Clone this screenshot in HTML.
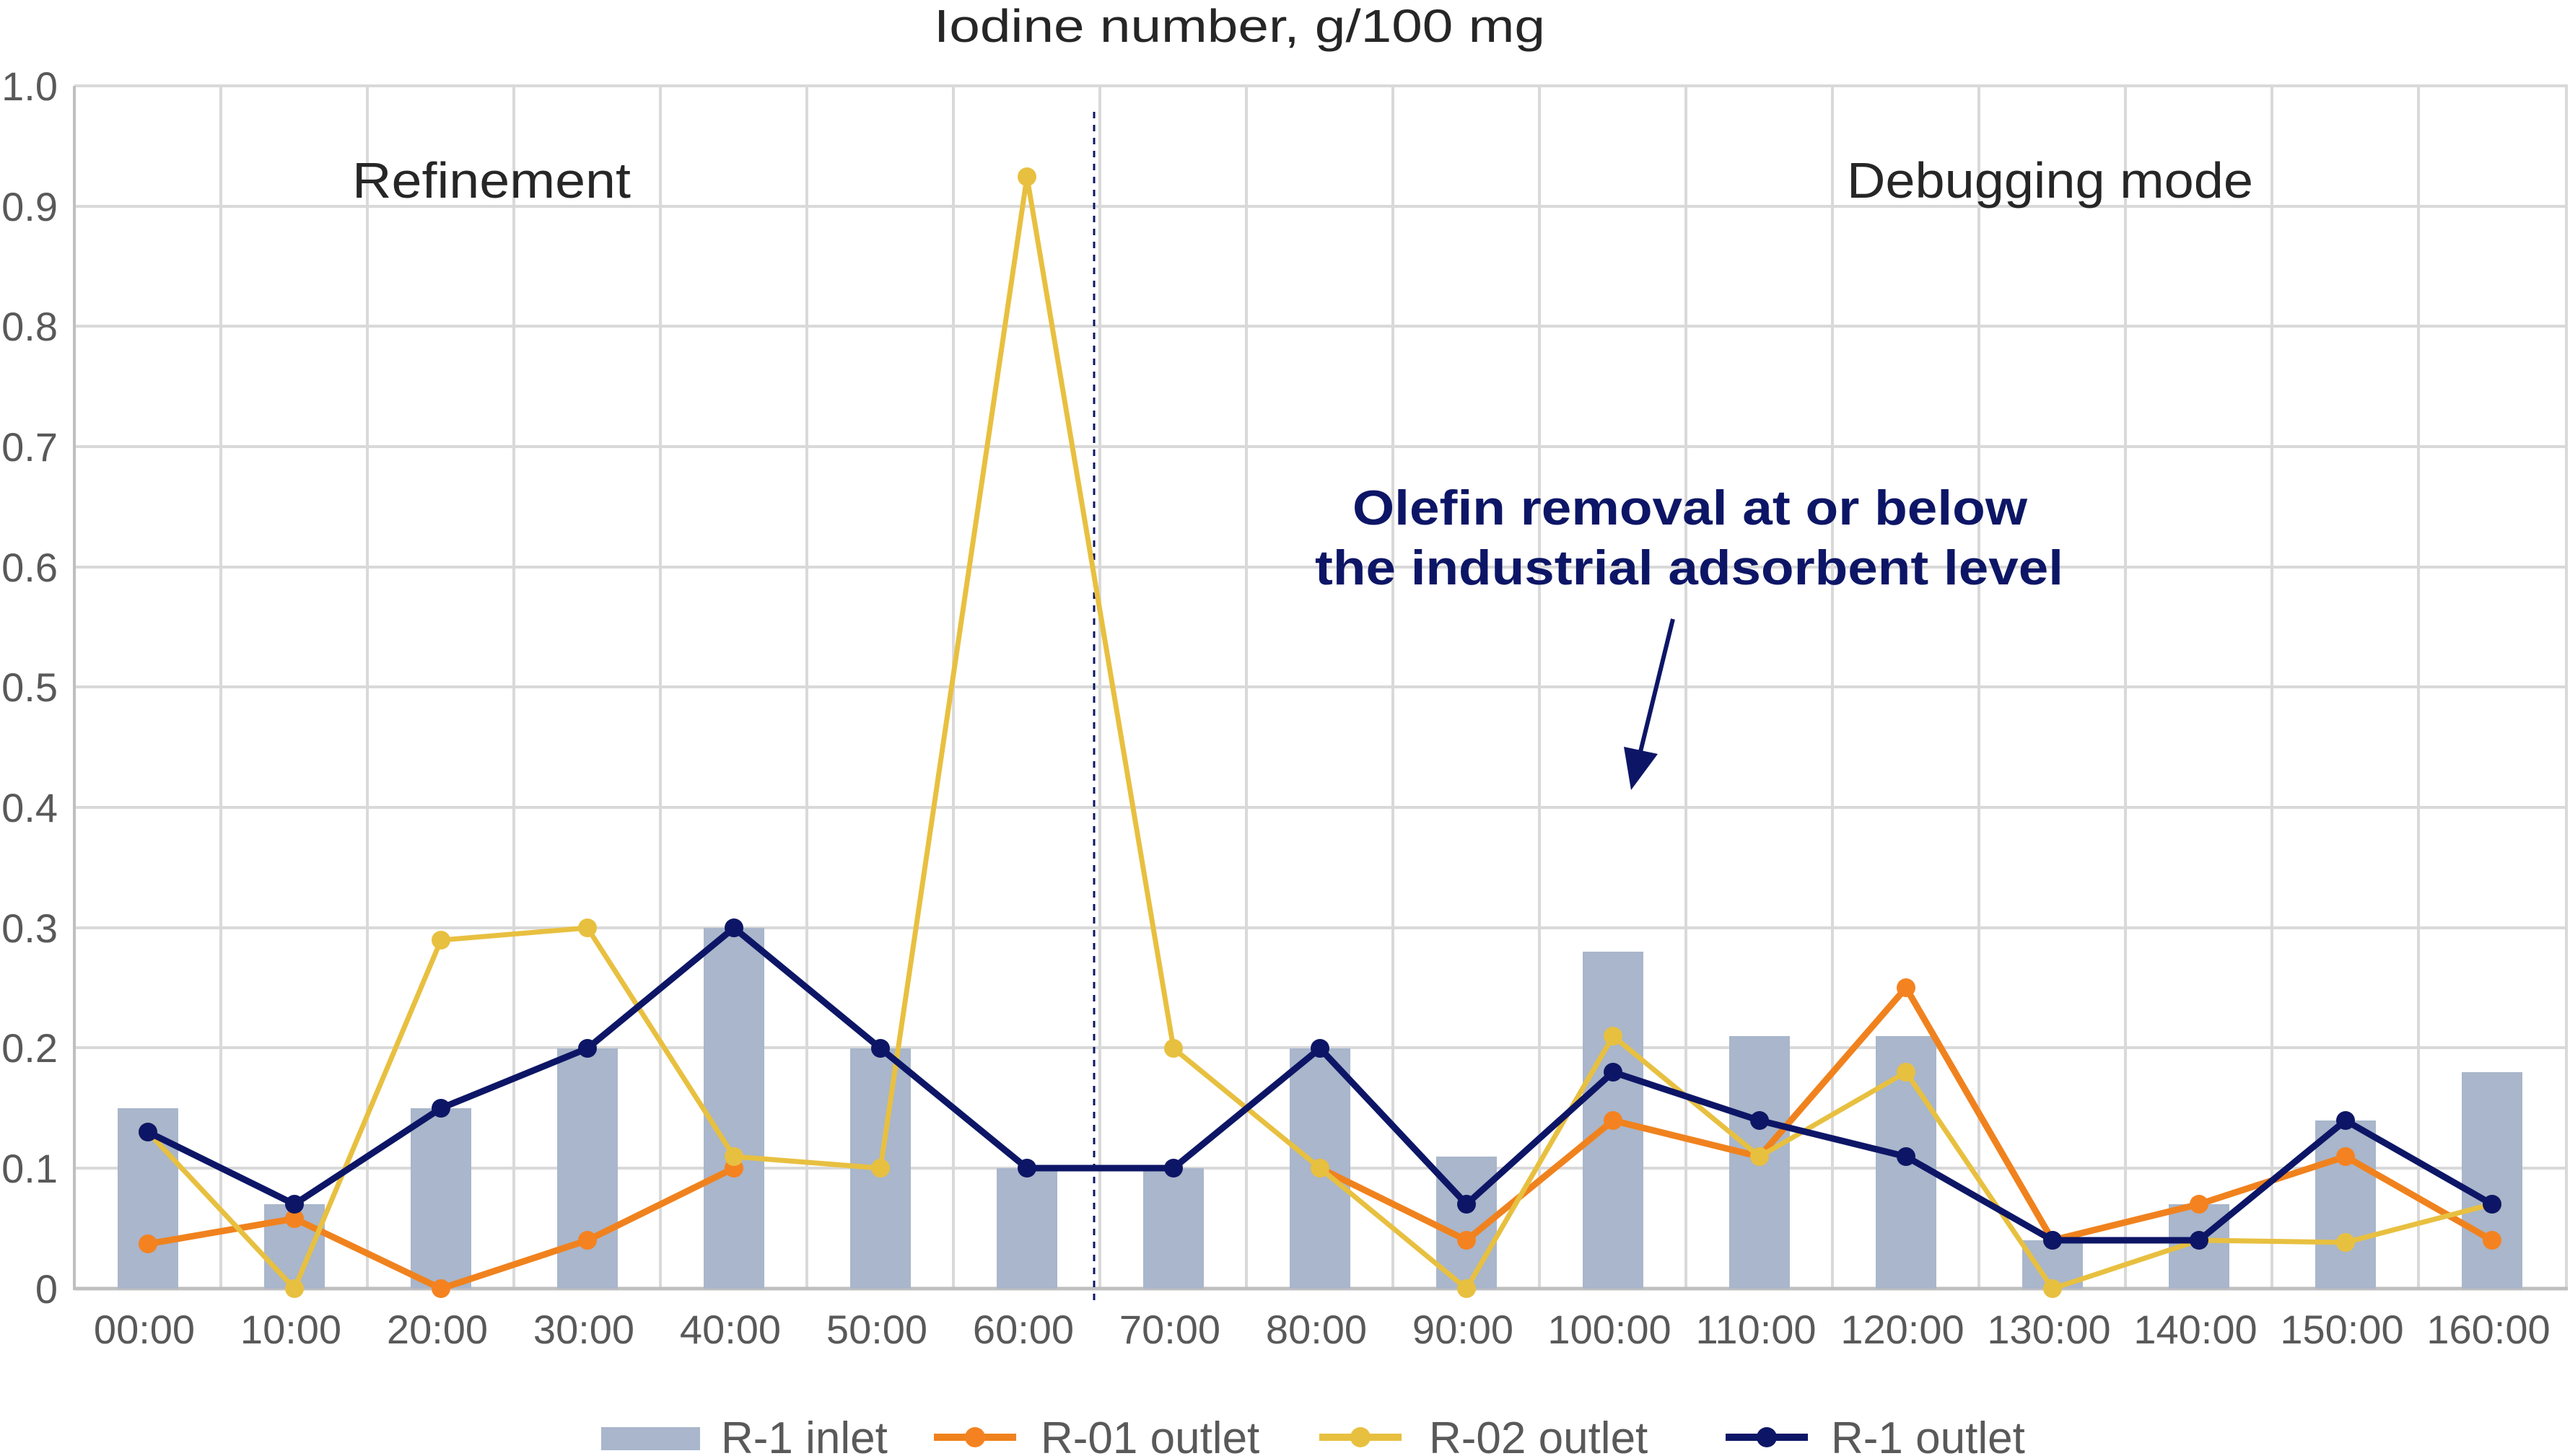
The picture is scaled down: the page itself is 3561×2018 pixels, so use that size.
<!DOCTYPE html>
<html><head><meta charset="utf-8"><style>html,body{margin:0;padding:0;background:#fff}svg{display:block}</style></head>
<body>
<svg width="3561" height="2018" viewBox="0 0 3561 2018" xmlns="http://www.w3.org/2000/svg" font-family="Liberation Sans, sans-serif">
<rect width="3561" height="2018" fill="#fff"/>
<g stroke="#D9D9D9" stroke-width="4">
<line x1="103" y1="119" x2="3558" y2="119"/>
<line x1="103" y1="286" x2="3558" y2="286"/>
<line x1="103" y1="452" x2="3558" y2="452"/>
<line x1="103" y1="619" x2="3558" y2="619"/>
<line x1="103" y1="786" x2="3558" y2="786"/>
<line x1="103" y1="952" x2="3558" y2="952"/>
<line x1="103" y1="1119" x2="3558" y2="1119"/>
<line x1="103" y1="1286" x2="3558" y2="1286"/>
<line x1="103" y1="1452" x2="3558" y2="1452"/>
<line x1="103" y1="1619" x2="3558" y2="1619"/>
<line x1="306" y1="119" x2="306" y2="1786"/><line x1="509" y1="119" x2="509" y2="1786"/><line x1="712" y1="119" x2="712" y2="1786"/><line x1="915" y1="119" x2="915" y2="1786"/><line x1="1118" y1="119" x2="1118" y2="1786"/><line x1="1321" y1="119" x2="1321" y2="1786"/><line x1="1524" y1="119" x2="1524" y2="1786"/><line x1="1727" y1="119" x2="1727" y2="1786"/><line x1="1930" y1="119" x2="1930" y2="1786"/><line x1="2133" y1="119" x2="2133" y2="1786"/><line x1="2336" y1="119" x2="2336" y2="1786"/><line x1="2539" y1="119" x2="2539" y2="1786"/><line x1="2742" y1="119" x2="2742" y2="1786"/><line x1="2945" y1="119" x2="2945" y2="1786"/><line x1="3148" y1="119" x2="3148" y2="1786"/><line x1="3351" y1="119" x2="3351" y2="1786"/><line x1="3556" y1="119" x2="3556" y2="1786"/>
</g>
<line x1="103" y1="119" x2="103" y2="1788" stroke="#BFBFBF" stroke-width="4"/>
<line x1="103" y1="1786" x2="3558" y2="1786" stroke="#BFBFBF" stroke-width="5"/>
<g fill="#A9B6CB">
<rect x="163" y="1536" width="84" height="250"/>
<rect x="366" y="1669" width="84" height="117"/>
<rect x="569" y="1536" width="84" height="250"/>
<rect x="772" y="1453" width="84" height="333"/>
<rect x="975" y="1286" width="84" height="500"/>
<rect x="1178" y="1453" width="84" height="333"/>
<rect x="1381" y="1619" width="84" height="167"/>
<rect x="1584" y="1619" width="84" height="167"/>
<rect x="1787" y="1453" width="84" height="333"/>
<rect x="1990" y="1603" width="84" height="183"/>
<rect x="2193" y="1319" width="84" height="467"/>
<rect x="2396" y="1436" width="84" height="350"/>
<rect x="2599" y="1436" width="84" height="350"/>
<rect x="2802" y="1719" width="84" height="67"/>
<rect x="3005" y="1669" width="84" height="117"/>
<rect x="3208" y="1553" width="84" height="233"/>
<rect x="3411" y="1486" width="84" height="300"/>
</g>
<line x1="1516" y1="155" x2="1516" y2="1810" stroke="#0D1666" stroke-width="3" stroke-dasharray="9,9"/>
<!-- orange -->
<polyline fill="none" stroke="#F0821E" stroke-width="9" stroke-linejoin="round" points="205,1724 408,1689 611,1786 814,1719 1017,1619"/>
<polyline fill="none" stroke="#F0821E" stroke-width="9" stroke-linejoin="round" points="1829,1619 2032,1719 2235,1553 2438,1603 2641,1369 2844,1719 3047,1669 3250,1603 3453,1719"/>
<g fill="#F58220"><circle cx="205" cy="1724" r="13"/><circle cx="408" cy="1689" r="13"/><circle cx="611" cy="1786" r="13"/><circle cx="814" cy="1719" r="13"/><circle cx="1017" cy="1619" r="13"/><circle cx="1829" cy="1619" r="13"/><circle cx="2032" cy="1719" r="13"/><circle cx="2235" cy="1553" r="13"/><circle cx="2438" cy="1603" r="13"/><circle cx="2641" cy="1369" r="13"/><circle cx="2844" cy="1719" r="13"/><circle cx="3047" cy="1669" r="13"/><circle cx="3250" cy="1603" r="13"/><circle cx="3453" cy="1719" r="13"/></g>
<!-- yellow -->
<polyline fill="none" stroke="#E8C040" stroke-width="7" stroke-linejoin="round" points="205,1569 408,1786 611,1303 814,1286 1017,1603 1220,1619 1423,245 1626,1453 1829,1619 2032,1786 2235,1436 2438,1603 2641,1486 2844,1786 3047,1719 3250,1722 3453,1669"/>
<g fill="#E8C040"><circle cx="205" cy="1569" r="13"/><circle cx="408" cy="1786" r="13"/><circle cx="611" cy="1303" r="13"/><circle cx="814" cy="1286" r="13"/><circle cx="1017" cy="1603" r="13"/><circle cx="1220" cy="1619" r="13"/><circle cx="1423" cy="245" r="13"/><circle cx="1626" cy="1453" r="13"/><circle cx="1829" cy="1619" r="13"/><circle cx="2032" cy="1786" r="13"/><circle cx="2235" cy="1436" r="13"/><circle cx="2438" cy="1603" r="13"/><circle cx="2641" cy="1486" r="13"/><circle cx="2844" cy="1786" r="13"/><circle cx="3047" cy="1719" r="13"/><circle cx="3250" cy="1722" r="13"/><circle cx="3453" cy="1669" r="13"/></g>
<!-- navy -->
<polyline fill="none" stroke="#0D1666" stroke-width="9" stroke-linejoin="round" points="205,1569 408,1669 611,1536 814,1453 1017,1286 1220,1453 1423,1619 1626,1619 1829,1453 2032,1669 2235,1486 2438,1553 2641,1603 2844,1719 3047,1719 3250,1553 3453,1669"/>
<g fill="#0D1666"><circle cx="205" cy="1569" r="13"/><circle cx="408" cy="1669" r="13"/><circle cx="611" cy="1536" r="13"/><circle cx="814" cy="1453" r="13"/><circle cx="1017" cy="1286" r="13"/><circle cx="1220" cy="1453" r="13"/><circle cx="1423" cy="1619" r="13"/><circle cx="1626" cy="1619" r="13"/><circle cx="1829" cy="1453" r="13"/><circle cx="2032" cy="1669" r="13"/><circle cx="2235" cy="1486" r="13"/><circle cx="2438" cy="1553" r="13"/><circle cx="2641" cy="1603" r="13"/><circle cx="2844" cy="1719" r="13"/><circle cx="3047" cy="1719" r="13"/><circle cx="3250" cy="1553" r="13"/><circle cx="3453" cy="1669" r="13"/></g>
<!-- y labels -->
<g fill="#595959" font-size="56" text-anchor="end">
<text x="80" y="139">1.0</text><text x="80" y="306">0.9</text><text x="80" y="472">0.8</text><text x="80" y="639">0.7</text><text x="80" y="806">0.6</text><text x="80" y="972">0.5</text><text x="80" y="1139">0.4</text><text x="80" y="1306">0.3</text><text x="80" y="1472">0.2</text><text x="80" y="1639">0.1</text><text x="80" y="1806">0</text>
</g>
<g fill="#595959" font-size="56" text-anchor="middle">
<text x="200" y="1862">00:00</text><text x="403" y="1862">10:00</text><text x="606" y="1862">20:00</text><text x="809" y="1862">30:00</text><text x="1012" y="1862">40:00</text><text x="1215" y="1862">50:00</text><text x="1418" y="1862">60:00</text><text x="1621" y="1862">70:00</text><text x="1824" y="1862">80:00</text><text x="2027" y="1862">90:00</text><text x="2230" y="1862">100:00</text><text x="2433" y="1862">110:00</text><text x="2636" y="1862">120:00</text><text x="2839" y="1862">130:00</text><text x="3042" y="1862">140:00</text><text x="3245" y="1862">150:00</text><text x="3448" y="1862">160:00</text>
</g>
<text x="1294" y="58" font-size="64" fill="#262626" textLength="847" lengthAdjust="spacingAndGlyphs">Iodine number, g/100 mg</text>
<text x="488" y="274" font-size="70" fill="#262626" textLength="386" lengthAdjust="spacingAndGlyphs">Refinement</text>
<text x="2559" y="274" font-size="70" fill="#262626" textLength="563" lengthAdjust="spacingAndGlyphs">Debugging mode</text>
<text x="1874" y="727" font-size="68" font-weight="bold" fill="#0D1666" textLength="935" lengthAdjust="spacingAndGlyphs">Olefin removal at or below</text>
<text x="1822" y="810" font-size="68" font-weight="bold" fill="#0D1666" textLength="1037" lengthAdjust="spacingAndGlyphs">the industrial adsorbent level</text>
<line x1="2318" y1="858" x2="2271" y2="1050" stroke="#0D1666" stroke-width="6"/>
<polygon points="2250,1035 2297,1045 2260,1095" fill="#0D1666"/>
<!-- legend -->
<rect x="833" y="1978" width="137" height="32" fill="#A9B6CB"/>
<text x="999" y="2014" font-size="62" fill="#595959">R-1 inlet</text>
<line x1="1294" y1="1992" x2="1408" y2="1992" stroke="#F0821E" stroke-width="10"/><circle cx="1351" cy="1992" r="14" fill="#F58220"/>
<text x="1442" y="2014" font-size="62" fill="#595959">R-01 outlet</text>
<line x1="1828" y1="1992" x2="1942" y2="1992" stroke="#E8C040" stroke-width="10"/><circle cx="1885" cy="1992" r="14" fill="#E8C040"/>
<text x="1980" y="2014" font-size="62" fill="#595959">R-02 outlet</text>
<line x1="2391" y1="1992" x2="2505" y2="1992" stroke="#0D1666" stroke-width="10"/><circle cx="2448" cy="1992" r="14" fill="#0D1666"/>
<text x="2537" y="2014" font-size="62" fill="#595959">R-1 outlet</text>
</svg>
</body></html>
